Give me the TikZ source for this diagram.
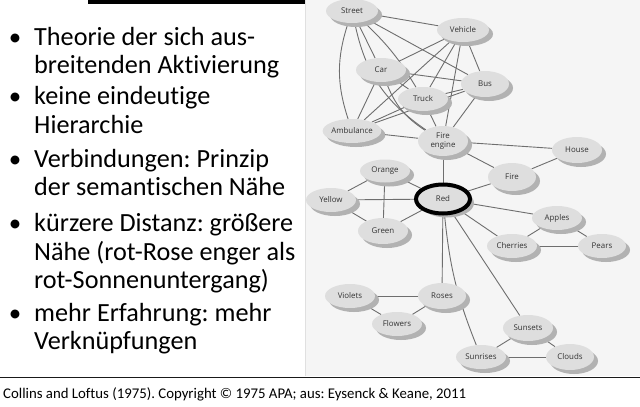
\documentclass[tikz,border=0pt]{standalone}
\usepackage{fontspec}
\setmainfont{Carlito}[Ligatures=NoCommon]
\newfontfamily\nodefamily{Open Sans}
\usetikzlibrary{shapes.geometric,shadows,backgrounds}
\definecolor{panelgray}{HTML}{F5F5F5}
\definecolor{nodefill}{HTML}{DEDEDE}
\definecolor{shadowgray}{HTML}{B2B2B2}
\definecolor{edgegray}{HTML}{6E6E6E}
\definecolor{nodetext}{HTML}{333333}
\begin{document}
\frenchspacing
\begin{tikzpicture}[x=1pt,y=-1pt,
  concept/.style={ellipse, fill=nodefill, minimum width=50pt, minimum height=24pt,
    inner sep=0pt, font=\nodefamily\fontsize{7.9}{8.6}\selectfont, text=nodetext, align=center,
    general shadow={fill=shadowgray, shadow xshift=4pt, shadow yshift=-4pt}},
  redconcept/.style={concept, draw=black, line width=4pt, minimum width=54pt, minimum height=29pt},
  link/.style={draw=edgegray, line width=0.9pt},
  bodytext/.style={anchor=base west, inner sep=0pt, font=\fontsize{26.2}{28}\selectfont, text=black},
  bulletmark/.style={anchor=base, inner sep=0pt, font=\fontsize{25}{28}\selectfont},
  captiontext/.style={anchor=base west, inner sep=0pt, font=\fontsize{14.8}{16}\selectfont}
]
\useasboundingbox (0,0) rectangle (640,407);
\begin{scope}[on background layer]
\fill[white] (0,0) rectangle (640,407);
\fill[panelgray] (305,0) rectangle (640,376);
\draw[black!12, line width=0.8pt] (305,0) -- (305,376);
\end{scope}
% top bar
\fill[black] (88,0) rectangle (305,3.5);
% bottom rule
\draw[black!90, line width=1.6pt] (0,377.5) -- (640,377.5);

% left text
\node[bulletmark] (b1) at (15,45) {•};
\node[bodytext] (t1) at (34,45) {Theorie der sich aus-};
\node[bodytext] (t2) at (34,73) {breitenden Aktivierung};
\node[bulletmark] (b2) at (15,104) {•};
\node[bodytext] (t3) at (34,104) {keine eindeutige};
\node[bodytext] (t4) at (34,133) {Hierarchie};
\node[bulletmark] (b3) at (15,167) {•};
\node[bodytext] (t5) at (34,167) {Verbindungen: Prinzip};
\node[bodytext] (t6) at (34,195.5) {der semantischen Nähe};
\node[bulletmark] (b4) at (15,231) {•};
\node[bodytext] (t7) at (34,231) {kürzere Distanz: größere};
\node[bodytext] (t8) at (34,260) {Nähe (rot-Rose enger als};
\node[bodytext] (t9) at (34,288.5) {rot-Sonnenuntergang)};
\node[bulletmark] (b5) at (15,321) {•};
\node[bodytext] (t10) at (34,321) {mehr Erfahrung: mehr};
\node[bodytext] (t11) at (34,349) {Verknüpfungen};

\node[captiontext] (cap) at (3,398) {Collins and Loftus (1975). Copyright © 1975 APA; aus: Eysenck \& Keane, 2011};

% concept nodes
\node[concept, minimum width=52pt] (street) at (352,11) {Street};
\node[concept, minimum width=52pt] (vehicle) at (463,30) {Vehicle};
\node[concept] (car) at (381,70) {Car};
\node[concept, minimum width=48pt, minimum height=26pt] (bus) at (485,84) {Bus};
\node[concept] (truck) at (423,99) {Truck};
\node[concept, minimum width=58pt] (ambulance) at (352,131) {Ambulance};
\node[concept, minimum width=50pt, minimum height=30pt] (fireengine) at (443,141) {Fire\\engine};
\node[concept, minimum height=26pt] (house) at (577,150) {House};
\node[concept, minimum height=23pt] (orange) at (385,171) {Orange};
\node[concept, minimum width=48pt, minimum height=28pt] (fire) at (512,177) {Fire};
\node[concept] (yellow) at (331,200) {Yellow};
\node[redconcept] (red) at (443,199) {Red};
\node[concept] (apples) at (557,218) {Apples};
\node[concept, minimum height=26pt] (green) at (383,231) {Green};
\node[concept] (cherries) at (512,246) {Cherries};
\node[concept, minimum width=48pt] (pears) at (602,246) {Pears};
\node[concept] (violets) at (350,296) {Violets};
\node[concept, minimum width=48pt, minimum height=26pt] (roses) at (442,296) {Roses};
\node[concept] (flowers) at (397,324) {Flowers};
\node[concept, minimum height=26pt] (sunsets) at (528,328) {Sunsets};
\node[concept] (sunrises) at (481,357) {Sunrises};
\node[concept, minimum width=48pt, minimum height=26pt] (clouds) at (570,357) {Clouds};

\begin{scope}[on background layer]
\path[link] (street) -- (vehicle);
\path[link] (street) -- (car);
\path[link] (street) to[bend left=8] (truck);
\path[link] (street) -- (bus);
\path[link] (street) to[bend right=18] (ambulance);
\path[link] (street) to[bend right=22] (fireengine);
\path[link] (vehicle) -- (car);
\path[link] (vehicle) -- (bus);
\path[link] (vehicle) -- (truck);
\path[link] (vehicle) -- (ambulance);
\path[link] (vehicle) -- (fireengine);
\path[link] (car) -- (bus);
\path[link] (car) -- (truck);
\path[link] (car) -- (ambulance);
\path[link] (car) to[bend right=18] (fireengine);
\path[link] (truck) -- (bus);
\path[link] (truck) -- (ambulance);
\path[link] (truck) -- (fireengine);
\path[link] (bus) -- (ambulance);
\path[link] (bus) -- (fireengine);
\path[link] (ambulance) -- (fireengine);
\path[link] (fireengine) -- (house);
\path[link] (fireengine) -- (fire);
\path[link] (fireengine) -- (red);
\path[link] (house) -- (fire);
\path[link] (fire) -- (red);
\path[link] (red) -- (orange);
\path[link] (red) -- (yellow);
\path[link] (red) -- (green);
\path[link] (red) -- (apples);
\path[link] (red) -- (cherries);
\path[link] (red) -- (roses);
\path[link] (red) -- (sunsets);
\path[link] (red) to[bend right=8] (sunrises);
\path[link] (orange) -- (yellow);
\path[link] (orange) -- (green);
\path[link] (yellow) -- (green);
\path[link] (apples) -- (cherries);
\path[link] (apples) -- (pears);
\path[link] (cherries) -- (pears);
\path[link] (violets) -- (roses);
\path[link] (violets) -- (flowers);
\path[link] (roses) -- (flowers);
\path[link] (sunsets) -- (sunrises);
\path[link] (sunsets) -- (clouds);
\path[link] (sunrises) -- (clouds);
\end{scope}
\end{tikzpicture}
\end{document}
